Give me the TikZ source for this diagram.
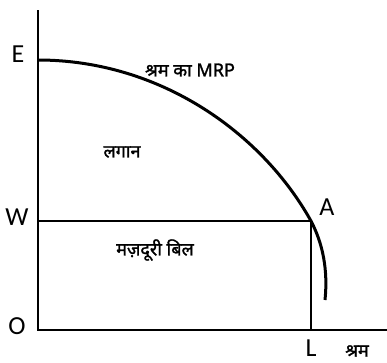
\documentclass[tikz,border=0pt]{standalone}
\usepackage{fontspec}
\setmainfont{Carlito}
\newfontfamily\deva[Script=Devanagari,FakeBold=1.5]{Noto Sans}
\begin{document}
\begin{tikzpicture}[x=1pt,y=-1pt,
  axis/.style={line width=2.6pt},
  curveline/.style={line width=3pt},
  lbl/.style={font=\fontsize{26}{28}\selectfont, inner sep=0pt},
  dlbl/.style={font=\deva\fontsize{18}{20}\selectfont, inner sep=0pt}]
\useasboundingbox (0,0) rectangle (387,362);
\coordinate (Ytop) at (38,10);
\coordinate (O) at (38,330);
\coordinate (Xend) at (387,330);
\coordinate (E) at (38,60);
\coordinate (W) at (38,221);
\coordinate (A) at (311,221);
\coordinate (L) at (311,330);
\coordinate (Cend) at (325,300);
\draw[axis] (Ytop) -- (O) -- (Xend);
\draw[axis] (W) -- (A) -- (L);
\draw[curveline] (E) .. controls (160,60) and (262,133) .. (A)
  .. controls (323,244) and (328,270) .. (Cend);
\node[lbl] (tE) at (18,54) {E};
\node[lbl] (tW) at (17,217) {W};
\node[lbl] (tO) at (17,326) {O};
\node[lbl] (tL) at (311,348) {L};
\node[lbl] (tA) at (327,207) {A};
\node[dlbl] (tX) at (357,351) {श्रम};
\node[dlbl] (tMRP) at (190,70) {श्रम का MRP};
\node[dlbl] (tR) at (122,152) {लगान};
\node[dlbl] (tWB) at (155,250) {मज़दूरी बिल};
\end{tikzpicture}
\end{document}
